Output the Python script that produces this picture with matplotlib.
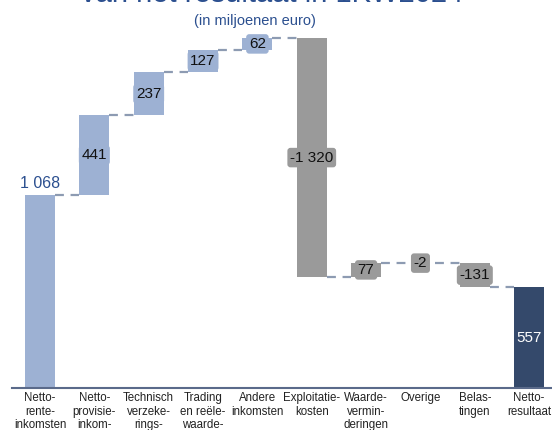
import numpy as np
import matplotlib.pyplot as plt

categories = ['Netto-\nrente-\ninkomsten', 'Netto-\nprovisie-\ninkom-\nsten',
              'Technisch\nverzeke-\nrings-\nresultaat', 'Trading\nen reële-\nwaarde-\nresultaat',
              'Andere\ninkomsten', 'Exploitatie-\nkosten', 'Waarde-\nvermin-\nderingen',
              'Overige', 'Belas-\ntingen', 'Netto-\nresultaat']
values = [1068, 441, 237, 127, 62, -1320, 77, -2, -131, 557]
labels = ['1 068', '441', '237', '127', '62', '-1 320', '77', '-2', '-131', '557']

LIGHT = '#9db1d3'
GREY = '#9a9a9a'
DARK = '#34496b'
TITLE = '#2b4f8f'

plt.rcParams['font.family'] = ['Liberation Sans', 'DejaVu Sans']

fig = plt.figure(figsize=(5.52, 4.30), dpi=100)
ax = fig.add_axes([12 / 552, 1 - 388 / 430, 540 / 552, 388 / 430])
ax.set_xlim(-0.515, 9.42)
ax.set_ylim(0, 2147)

n = len(values)
x = np.arange(n)
bottoms = []
heights = []
colors = []
level = 0
for i, v in enumerate(values):
    if i == 0 or i == n - 1:
        bottoms.append(0)
        heights.append(v)
        colors.append(LIGHT if i == 0 else DARK)
        level = v if i == 0 else level
    else:
        bottoms.append(level if v >= 0 else level + v)
        heights.append(abs(v))
        colors.append(LIGHT if i < 5 else GREY)
        level += v

w = 0.55
ax.bar(x, heights, bottom=bottoms, width=w, color=colors, edgecolor='none', zorder=2)

# dashed connectors between bars
for i in range(n - 1):
    if i == 0:
        y = values[0]
    elif values[i] >= 0:
        y = bottoms[i] + heights[i]
    else:
        y = bottoms[i]
    ax.plot([x[i] + w / 2, x[i + 1] - w / 2], [y, y], color='#8d9bb2',
            lw=1.6, dashes=(4, 3), zorder=1)

# value labels
for i in range(n):
    mid = bottoms[i] + heights[i] / 2
    if i == 0:
        ax.text(x[i], heights[i] + 20, labels[i], ha='center', va='bottom',
                fontsize=11.5, color=TITLE, zorder=3)
    elif i == n - 1:
        ax.text(x[i], mid, labels[i], ha='center', va='center',
                fontsize=11, color='white', zorder=3)
    else:
        ax.text(x[i], mid, labels[i], ha='center', va='center', fontsize=11,
                color='#111111', zorder=3,
                bbox=dict(boxstyle='round,pad=0.18,rounding_size=0.2',
                          fc=colors[i], ec='none'))

ax.set_xticks(x)
ax.set_xticklabels(categories, fontsize=8.3, linespacing=1.15, color='#222222')
ax.tick_params(axis='x', length=0, pad=3)
ax.set_yticks([])
for s in ['top', 'right', 'left']:
    ax.spines[s].set_visible(False)
ax.spines['bottom'].set_color('#5a6a8a')
ax.spines['bottom'].set_linewidth(1.5)

fig.text(0.493, 1 - 2 / 430, 'van het resultaat in 1KW2024', ha='center',
         va='baseline', fontsize=21, color=TITLE)
fig.text(0.462, 1 - 21 / 430, '(in miljoenen euro)', ha='center', va='center',
         fontsize=10.5, color=TITLE)

fig.savefig('out.png', dpi=100)
